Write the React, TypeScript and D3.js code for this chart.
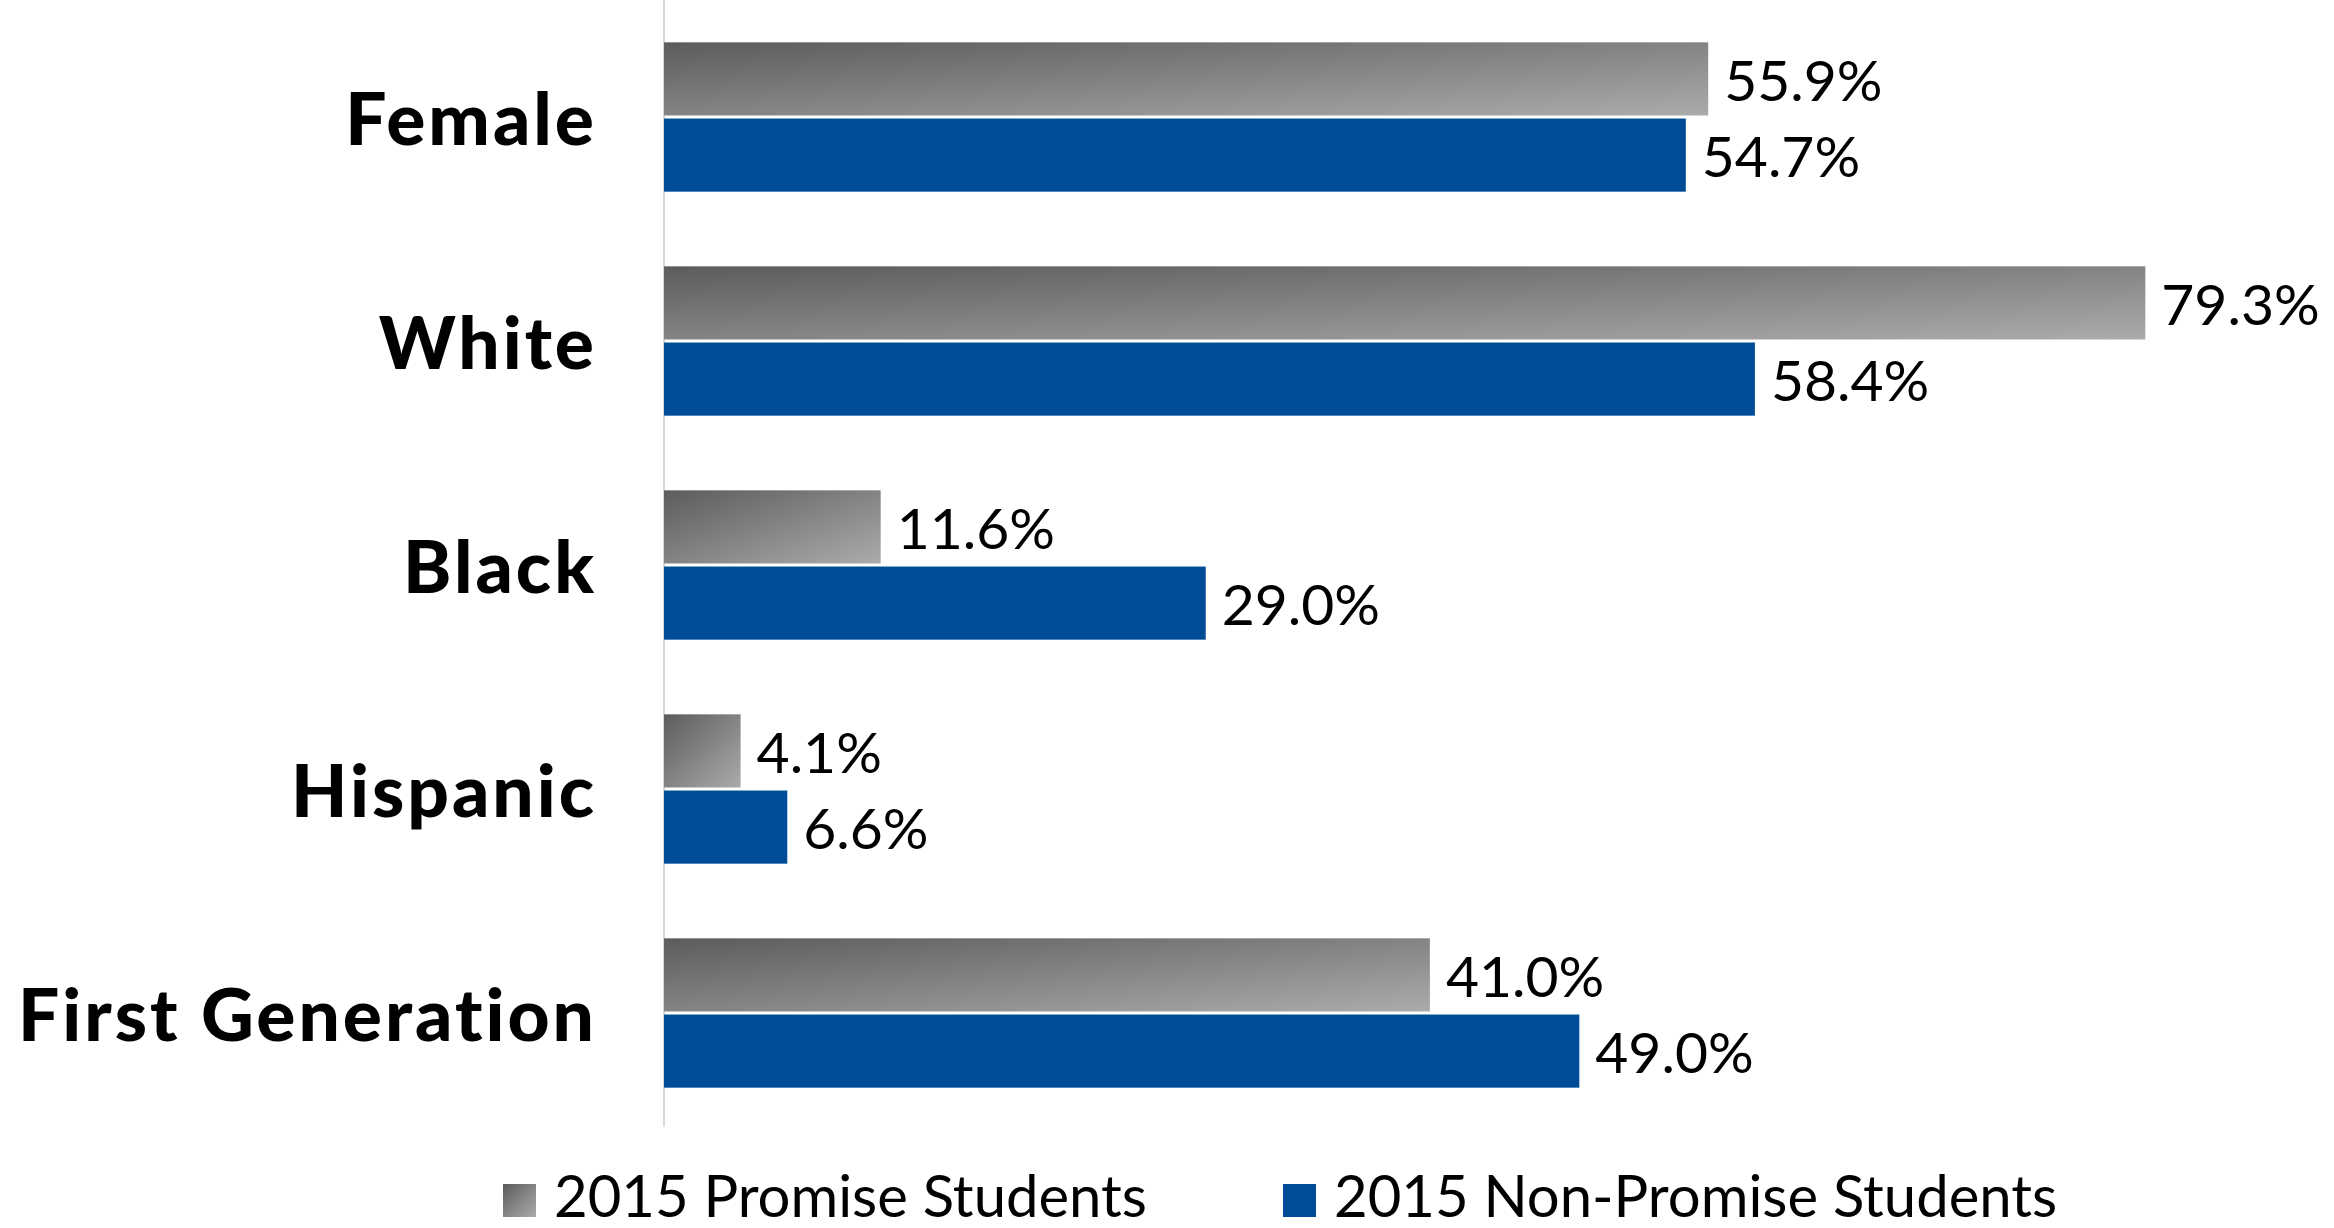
import * as d3 from "d3";

const categories = ["Female", "White", "Black", "Hispanic", "First Generation"];
const seriesNames = ["2015 Promise Students", "2015 Non-Promise Students"];
const promiseValues = [55.9, 79.3, 11.6, 4.1, 41.0];
const nonPromiseValues = [54.7, 58.4, 29.0, 6.6, 49.0];

const W = 2334;
const H = 1228;
const FONT = "Lato, 'Open Sans', sans-serif";
const BLUE = "#004c97";

export default function App() {
  const x = d3.scaleLinear().domain([0, 100]).range([664, 664 + 1868]);
  const y = d3
    .scaleBand<string>()
    .domain(categories)
    .range([5, 1125])
    .paddingInner(1 / 3)
    .paddingOuter(1 / 6);
  const inner = d3
    .scaleBand<string>()
    .domain(seriesNames)
    .range([0, y.bandwidth()])
    .paddingInner(0.04);

  const rows = categories.map((c, i) => ({
    cat: c,
    bars: [
      { s: seriesNames[0], v: promiseValues[i] },
      { s: seriesNames[1], v: nonPromiseValues[i] },
    ],
  }));

  const fillFor = (s: string) => (s === seriesNames[0] ? "url(#grayGrad)" : BLUE);

  const legendItems = [
    { s: seriesNames[0], x: 503 },
    { s: seriesNames[1], x: 1283 },
  ];

  return (
    <svg
      width={W}
      height={H}
      style={{
        position: "absolute",
        top: 0,
        left: 0,
        background: "#fff",
        fontVariantLigatures: "none",
      }}
      fontFamily={FONT}
    >
      <defs>
        <linearGradient id="grayGrad" x1="0" y1="0" x2="1" y2="1">
          <stop offset="0%" stopColor="#5c5c5c" />
          <stop offset="100%" stopColor="#ababab" />
        </linearGradient>
      </defs>

      <line x1={x(0)} x2={x(0)} y1={0} y2={1127} stroke="#d9d9d9" strokeWidth={2} />

      {rows.map((r) => {
        const y0 = y(r.cat)!;
        return (
          <g key={r.cat}>
            <text
              x={597}
              y={y0 + y.bandwidth() / 2}
              textAnchor="end"
              dominantBaseline="central"
              fontWeight={900}
              fontSize={73}
              letterSpacing={3}
              fill="#000"
            >
              {r.cat}
            </text>
            {r.bars.map((b) => {
              const by = y0 + inner(b.s)!;
              return (
                <g key={b.s}>
                  <rect
                    x={x(0)}
                    y={by}
                    width={x(b.v) - x(0)}
                    height={inner.bandwidth()}
                    fill={fillFor(b.s)}
                  />
                  <text
                    x={x(b.v) + 16}
                    y={by + inner.bandwidth() / 2}
                    dominantBaseline="central"
                    fontSize={57}
                    fill="#000"
                  >
                    {b.v.toFixed(1)}%
                  </text>
                </g>
              );
            })}
          </g>
        );
      })}

      {legendItems.map((l) => (
        <g key={l.s}>
          <rect x={l.x} y={1184} width={33} height={33} fill={fillFor(l.s)} />
          <text x={l.x + 51} y={1217} fontSize={58} fill="#000">
            {l.s}
          </text>
        </g>
      ))}
    </svg>
  );
}
